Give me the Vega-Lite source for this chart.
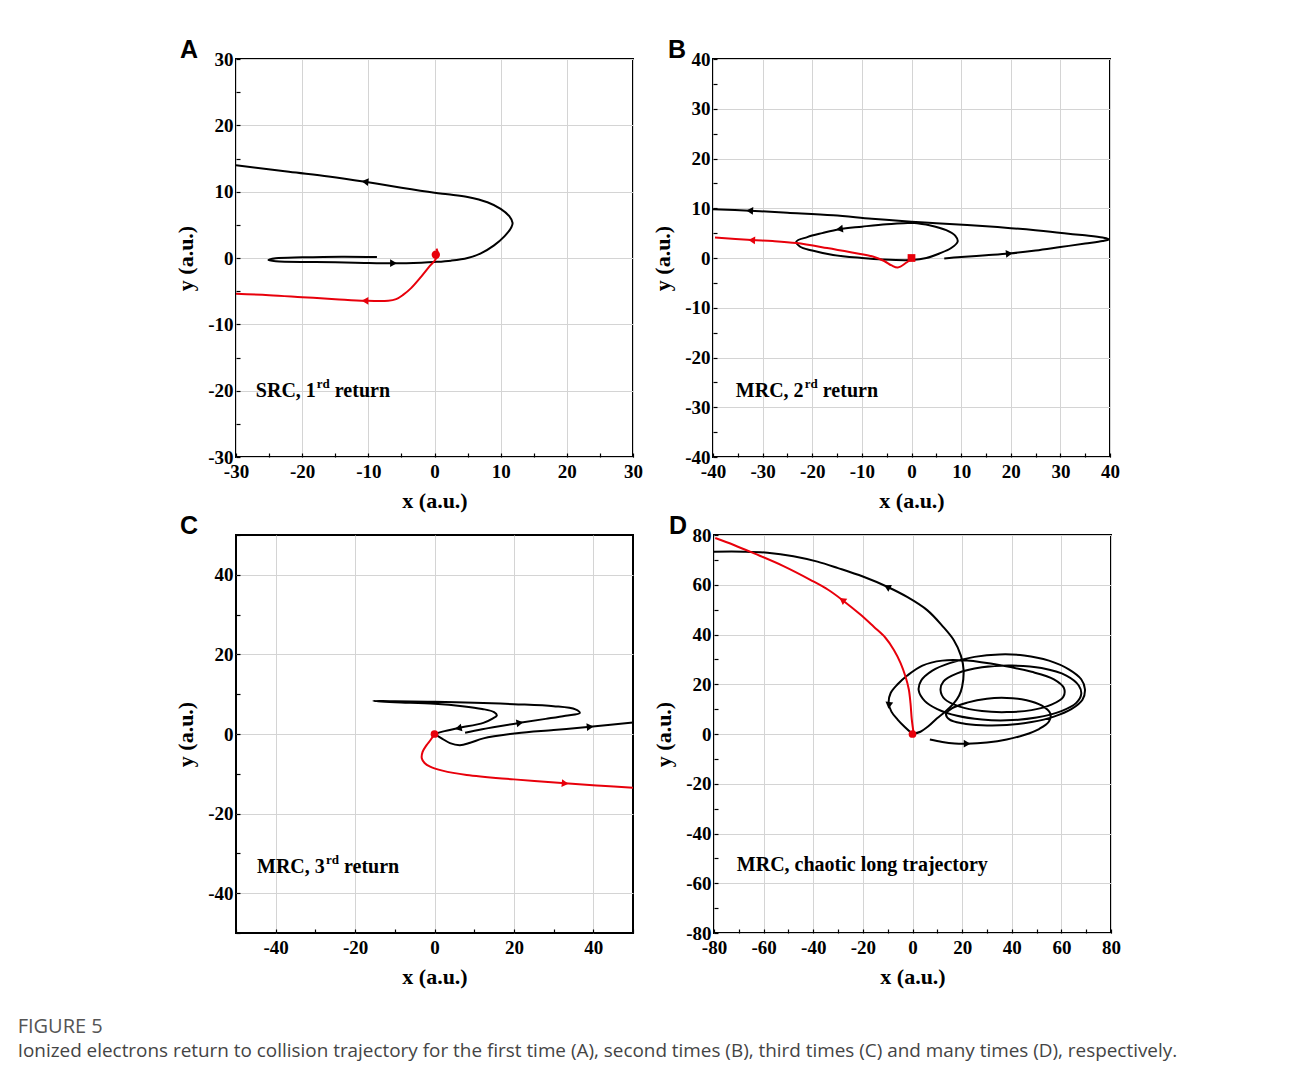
{
"$schema":"https://vega.github.io/schema/vega-lite/v6.json",
"padding":{"left":17,"top":37,"right":20,"bottom":20},
"background":"white",
"spacing":1,
"title":{"text":"FIGURE 5","subtitle":"Ionized electrons return to collision trajectory for the first time (A), second times (B), third times (C) and many times (D), respectively.","orient":"bottom","anchor":"start","frame":"bounds","font":"Open Sans","fontWeight":"normal","fontSize":20,"color":"#555555","subtitleFont":"Open Sans","subtitleFontSize":18.9,"subtitleColor":"#444444","subtitlePadding":5,"offset":29,"dx":-156},
"datasets":{
"lineA":[
{"seg":1,"kind":"trajectory","x":-8.7,"y":0.15},{"seg":1,"kind":"trajectory","x":-14,"y":0.2},{"seg":1,"kind":"trajectory","x":-20,"y":0.1},{"seg":1,"kind":"trajectory","x":-24,"y":-0.05},{"seg":1,"kind":"trajectory","x":-25.1,"y":-0.3},{"seg":1,"kind":"trajectory","x":-24,"y":-0.5},{"seg":1,"kind":"trajectory","x":-18,"y":-0.6},{"seg":1,"kind":"trajectory","x":-12,"y":-0.7},{"seg":1,"kind":"trajectory","x":-6,"y":-0.8},{"seg":1,"kind":"trajectory","x":-2,"y":-0.7},{"seg":1,"kind":"trajectory","x":0,"y":-0.6},{"seg":1,"kind":"trajectory","x":2.5,"y":-0.4},{"seg":1,"kind":"trajectory","x":5,"y":0},{"seg":1,"kind":"trajectory","x":7,"y":0.7},{"seg":1,"kind":"trajectory","x":9,"y":1.9},{"seg":1,"kind":"trajectory","x":10.6,"y":3.3},{"seg":1,"kind":"trajectory","x":11.6,"y":4.6},{"seg":1,"kind":"trajectory","x":11.8,"y":5.3},{"seg":1,"kind":"trajectory","x":11.3,"y":6.3},{"seg":1,"kind":"trajectory","x":10,"y":7.4},{"seg":1,"kind":"trajectory","x":8,"y":8.4},{"seg":1,"kind":"trajectory","x":5,"y":9.2},{"seg":1,"kind":"trajectory","x":2,"y":9.6},{"seg":1,"kind":"trajectory","x":0,"y":9.85},{"seg":1,"kind":"trajectory","x":-5,"y":10.6},{"seg":1,"kind":"trajectory","x":-10.5,"y":11.5},{"seg":1,"kind":"trajectory","x":-16,"y":12.3},{"seg":1,"kind":"trajectory","x":-22,"y":13.0},{"seg":1,"kind":"trajectory","x":-30,"y":14.0},
{"seg":2,"kind":"return","x":0.3,"y":1.4},{"seg":2,"kind":"return","x":0.5,"y":0.6},{"seg":2,"kind":"return","x":0.1,"y":-0.3},{"seg":2,"kind":"return","x":-0.7,"y":-1.2},{"seg":2,"kind":"return","x":-2,"y":-2.8},{"seg":2,"kind":"return","x":-3.5,"y":-4.5},{"seg":2,"kind":"return","x":-4.8,"y":-5.6},{"seg":2,"kind":"return","x":-5.8,"y":-6.2},{"seg":2,"kind":"return","x":-7,"y":-6.45},{"seg":2,"kind":"return","x":-10.5,"y":-6.45},{"seg":2,"kind":"return","x":-15,"y":-6.2},{"seg":2,"kind":"return","x":-20,"y":-5.9},{"seg":2,"kind":"return","x":-25,"y":-5.6},{"seg":2,"kind":"return","x":-30,"y":-5.4}
],
"arrA":[{"kind":"trajectory","x":-10.5,"y":11.5,"dir":187},{"kind":"trajectory","x":-6.2,"y":-0.78,"dir":0},{"kind":"return","x":-10.5,"y":-6.45,"dir":180}],
"lineB":[
{"seg":1,"kind":"trajectory","x":6.6,"y":-0.1},{"seg":1,"kind":"trajectory","x":10,"y":0.2},{"seg":1,"kind":"trajectory","x":15,"y":0.55},{"seg":1,"kind":"trajectory","x":19.7,"y":0.9},{"seg":1,"kind":"trajectory","x":25,"y":1.5},{"seg":1,"kind":"trajectory","x":30,"y":2.2},{"seg":1,"kind":"trajectory","x":35,"y":2.9},{"seg":1,"kind":"trajectory","x":38.5,"y":3.4},{"seg":1,"kind":"trajectory","x":39.8,"y":3.75},{"seg":1,"kind":"trajectory","x":38.5,"y":4.1},{"seg":1,"kind":"trajectory","x":34.4,"y":4.6},{"seg":1,"kind":"trajectory","x":28,"y":5.3},{"seg":1,"kind":"trajectory","x":20,"y":6.0},{"seg":1,"kind":"trajectory","x":12,"y":6.6},{"seg":1,"kind":"trajectory","x":5,"y":7.0},{"seg":1,"kind":"trajectory","x":0,"y":7.3},{"seg":1,"kind":"trajectory","x":-8,"y":7.9},{"seg":1,"kind":"trajectory","x":-15.8,"y":8.6},{"seg":1,"kind":"trajectory","x":-25,"y":9.1},{"seg":1,"kind":"trajectory","x":-32.6,"y":9.5},{"seg":1,"kind":"trajectory","x":-40,"y":9.8},
{"seg":2,"kind":"trajectory","x":0,"y":7.1},{"seg":2,"kind":"trajectory","x":-5,"y":6.8},{"seg":2,"kind":"trajectory","x":-10,"y":6.3},{"seg":2,"kind":"trajectory","x":-14.5,"y":5.8},{"seg":2,"kind":"trajectory","x":-18,"y":5.0},{"seg":2,"kind":"trajectory","x":-21,"y":4.2},{"seg":2,"kind":"trajectory","x":-23.2,"y":3.3},{"seg":2,"kind":"trajectory","x":-22.5,"y":2.3},{"seg":2,"kind":"trajectory","x":-20,"y":1.5},{"seg":2,"kind":"trajectory","x":-15.8,"y":0.6},{"seg":2,"kind":"trajectory","x":-10,"y":0.0},{"seg":2,"kind":"trajectory","x":-5.8,"y":-0.3},{"seg":2,"kind":"trajectory","x":0,"y":-0.4},{"seg":2,"kind":"trajectory","x":3,"y":0},{"seg":2,"kind":"trajectory","x":5.6,"y":0.9},{"seg":2,"kind":"trajectory","x":8,"y":2.0},{"seg":2,"kind":"trajectory","x":9.3,"y":3.3},{"seg":2,"kind":"trajectory","x":8.8,"y":4.5},{"seg":2,"kind":"trajectory","x":7,"y":5.6},{"seg":2,"kind":"trajectory","x":3.6,"y":6.6},{"seg":2,"kind":"trajectory","x":0,"y":7.1},
{"seg":3,"kind":"return","x":0,"y":-0.2},{"seg":3,"kind":"return","x":-1,"y":-0.9},{"seg":3,"kind":"return","x":-2.75,"y":-1.9},{"seg":3,"kind":"return","x":-4,"y":-1.5},{"seg":3,"kind":"return","x":-5.5,"y":-0.6},{"seg":3,"kind":"return","x":-7.8,"y":0.3},{"seg":3,"kind":"return","x":-12,"y":1.1},{"seg":3,"kind":"return","x":-17,"y":2.0},{"seg":3,"kind":"return","x":-23.2,"y":3.0},{"seg":3,"kind":"return","x":-28,"y":3.4},{"seg":3,"kind":"return","x":-32.2,"y":3.6},{"seg":3,"kind":"return","x":-39.6,"y":4.1}
],
"arrB":[{"kind":"trajectory","x":-32.6,"y":9.5,"dir":184},{"kind":"trajectory","x":-14.5,"y":5.8,"dir":172},{"kind":"trajectory","x":19.7,"y":0.9,"dir":355},{"kind":"return","x":-32.2,"y":3.6,"dir":183}],
"lineC":[
{"seg":1,"kind":"trajectory","x":7.7,"y":0.3},{"seg":1,"kind":"trajectory","x":12,"y":1.2},{"seg":1,"kind":"trajectory","x":21.5,"y":2.8},{"seg":1,"kind":"trajectory","x":28,"y":3.8},{"seg":1,"kind":"trajectory","x":33,"y":4.6},{"seg":1,"kind":"trajectory","x":36.6,"y":5.3},{"seg":1,"kind":"trajectory","x":35.5,"y":6.2},{"seg":1,"kind":"trajectory","x":30,"y":7.0},{"seg":1,"kind":"trajectory","x":20,"y":7.5},{"seg":1,"kind":"trajectory","x":12.3,"y":7.8},{"seg":1,"kind":"trajectory","x":0,"y":8.1},{"seg":1,"kind":"trajectory","x":-10,"y":8.2},{"seg":1,"kind":"trajectory","x":-15.4,"y":8.3},{"seg":1,"kind":"trajectory","x":-10,"y":8.0},{"seg":1,"kind":"trajectory","x":0,"y":7.6},{"seg":1,"kind":"trajectory","x":7,"y":7.0},{"seg":1,"kind":"trajectory","x":12,"y":6.3},{"seg":1,"kind":"trajectory","x":15,"y":5.5},{"seg":1,"kind":"trajectory","x":15.7,"y":4.7},{"seg":1,"kind":"trajectory","x":14.5,"y":3.8},{"seg":1,"kind":"trajectory","x":12.3,"y":2.8},{"seg":1,"kind":"trajectory","x":6,"y":1.5},{"seg":1,"kind":"trajectory","x":2,"y":0.6},{"seg":1,"kind":"trajectory","x":0,"y":0},
{"seg":2,"kind":"trajectory","x":0,"y":0},{"seg":2,"kind":"trajectory","x":2,"y":-1.2},{"seg":2,"kind":"trajectory","x":3.9,"y":-2.3},{"seg":2,"kind":"trajectory","x":6.4,"y":-2.8},{"seg":2,"kind":"trajectory","x":9,"y":-2.2},{"seg":2,"kind":"trajectory","x":12.3,"y":-1.1},{"seg":2,"kind":"trajectory","x":20.7,"y":0.2},{"seg":2,"kind":"trajectory","x":30,"y":1.0},{"seg":2,"kind":"trajectory","x":39.2,"y":1.8},{"seg":2,"kind":"trajectory","x":50,"y":2.9},
{"seg":3,"kind":"return","x":0,"y":0},{"seg":3,"kind":"return","x":-1,"y":-1.5},{"seg":3,"kind":"return","x":-2,"y":-2.8},{"seg":3,"kind":"return","x":-3,"y":-4.5},{"seg":3,"kind":"return","x":-3.2,"y":-6.1},{"seg":3,"kind":"return","x":-2.5,"y":-7.3},{"seg":3,"kind":"return","x":-1.1,"y":-8.2},{"seg":3,"kind":"return","x":2,"y":-9.2},{"seg":3,"kind":"return","x":8.1,"y":-10.3},{"seg":3,"kind":"return","x":20,"y":-11.4},{"seg":3,"kind":"return","x":32.9,"y":-12.4},{"seg":3,"kind":"return","x":42,"y":-13.0},{"seg":3,"kind":"return","x":50,"y":-13.5}
],
"arrC":[{"kind":"trajectory","x":6,"y":1.45,"dir":168},{"kind":"trajectory","x":21.5,"y":2.8,"dir":350},{"kind":"trajectory","x":39.2,"y":1.8,"dir":355},{"kind":"return","x":32.9,"y":-12.4,"dir":5}],
"lineD":[
{"seg":1,"kind":"trajectory","x":0,"y":0},{"seg":1,"kind":"trajectory","x":3.2,"y":0.9},{"seg":1,"kind":"trajectory","x":6.5,"y":3.2},{"seg":1,"kind":"trajectory","x":9.9,"y":6.3},{"seg":1,"kind":"trajectory","x":13.5,"y":9.2},{"seg":1,"kind":"trajectory","x":16.6,"y":12.3},{"seg":1,"kind":"trajectory","x":18.8,"y":15.5},{"seg":1,"kind":"trajectory","x":20,"y":19},{"seg":1,"kind":"trajectory","x":20.6,"y":25.7},{"seg":1,"kind":"trajectory","x":19.5,"y":31.5},{"seg":1,"kind":"trajectory","x":16.6,"y":37.8},{"seg":1,"kind":"trajectory","x":12,"y":43.5},{"seg":1,"kind":"trajectory","x":5.9,"y":49.8},{"seg":1,"kind":"trajectory","x":-2,"y":55},{"seg":1,"kind":"trajectory","x":-10.2,"y":59.2},{"seg":1,"kind":"trajectory","x":-20,"y":63.3},{"seg":1,"kind":"trajectory","x":-30,"y":66.7},{"seg":1,"kind":"trajectory","x":-38.3,"y":69.3},{"seg":1,"kind":"trajectory","x":-48,"y":71.5},{"seg":1,"kind":"trajectory","x":-58.4,"y":72.9},{"seg":1,"kind":"trajectory","x":-68,"y":73.3},{"seg":1,"kind":"trajectory","x":-80,"y":73.3},
{"seg":2,"kind":"trajectory","x":7,"y":-2.2},{"seg":2,"kind":"trajectory","x":12,"y":-3.2},{"seg":2,"kind":"trajectory","x":17,"y":-3.8},{"seg":2,"kind":"trajectory","x":22,"y":-3.9},{"seg":2,"kind":"trajectory","x":30,"y":-3.4},{"seg":2,"kind":"trajectory","x":38,"y":-2.2},{"seg":2,"kind":"trajectory","x":45,"y":-0.4},{"seg":2,"kind":"trajectory","x":51,"y":2},{"seg":2,"kind":"trajectory","x":55,"y":5},{"seg":2,"kind":"trajectory","x":55.5,"y":8.3},{"seg":2,"kind":"trajectory","x":52,"y":11.5},{"seg":2,"kind":"trajectory","x":46,"y":13.6},{"seg":2,"kind":"trajectory","x":38,"y":14.5},{"seg":2,"kind":"trajectory","x":30,"y":14.2},{"seg":2,"kind":"trajectory","x":22,"y":12.6},{"seg":2,"kind":"trajectory","x":16,"y":10.4},{"seg":2,"kind":"trajectory","x":13.5,"y":8},{"seg":2,"kind":"trajectory","x":15,"y":5.8},{"seg":2,"kind":"trajectory","x":20,"y":4.3},{"seg":2,"kind":"trajectory","x":28,"y":3.5},{"seg":2,"kind":"trajectory","x":38,"y":3.6},{"seg":2,"kind":"trajectory","x":48,"y":4.8},{"seg":2,"kind":"trajectory","x":57,"y":7},{"seg":2,"kind":"trajectory","x":64,"y":10},{"seg":2,"kind":"trajectory","x":68.5,"y":13.8},{"seg":2,"kind":"trajectory","x":69.5,"y":18},{"seg":2,"kind":"trajectory","x":68,"y":22},{"seg":2,"kind":"trajectory","x":63,"y":26},{"seg":2,"kind":"trajectory","x":55,"y":29.5},{"seg":2,"kind":"trajectory","x":45,"y":31.6},{"seg":2,"kind":"trajectory","x":35,"y":32},{"seg":2,"kind":"trajectory","x":25,"y":31},{"seg":2,"kind":"trajectory","x":15,"y":28.5},{"seg":2,"kind":"trajectory","x":8,"y":25.5},{"seg":2,"kind":"trajectory","x":3.5,"y":21.5},{"seg":2,"kind":"trajectory","x":2.5,"y":17.5},{"seg":2,"kind":"trajectory","x":5,"y":13.2},{"seg":2,"kind":"trajectory","x":10,"y":10},{"seg":2,"kind":"trajectory","x":18,"y":7.3},{"seg":2,"kind":"trajectory","x":28,"y":5.8},{"seg":2,"kind":"trajectory","x":38,"y":5.5},{"seg":2,"kind":"trajectory","x":50,"y":6.6},{"seg":2,"kind":"trajectory","x":60,"y":9.2},{"seg":2,"kind":"trajectory","x":66,"y":12.5},{"seg":2,"kind":"trajectory","x":68,"y":16},{"seg":2,"kind":"trajectory","x":67,"y":19.5},{"seg":2,"kind":"trajectory","x":62,"y":23.5},{"seg":2,"kind":"trajectory","x":52,"y":26.5},{"seg":2,"kind":"trajectory","x":40,"y":27.5},{"seg":2,"kind":"trajectory","x":28,"y":26.8},{"seg":2,"kind":"trajectory","x":18,"y":24.4},{"seg":2,"kind":"trajectory","x":12.5,"y":21.2},{"seg":2,"kind":"trajectory","x":11.3,"y":17.7},{"seg":2,"kind":"trajectory","x":13,"y":14},{"seg":2,"kind":"trajectory","x":19,"y":11},{"seg":2,"kind":"trajectory","x":28,"y":9.2},{"seg":2,"kind":"trajectory","x":38,"y":8.8},{"seg":2,"kind":"trajectory","x":48,"y":9.6},{"seg":2,"kind":"trajectory","x":56,"y":11.8},{"seg":2,"kind":"trajectory","x":60.8,"y":15},{"seg":2,"kind":"trajectory","x":61,"y":18.5},{"seg":2,"kind":"trajectory","x":57,"y":22},{"seg":2,"kind":"trajectory","x":48,"y":25},{"seg":2,"kind":"trajectory","x":36,"y":27.5},{"seg":2,"kind":"trajectory","x":22,"y":29.5},{"seg":2,"kind":"trajectory","x":12,"y":29.5},{"seg":2,"kind":"trajectory","x":4,"y":27.5},{"seg":2,"kind":"trajectory","x":-2.1,"y":23.5},{"seg":2,"kind":"trajectory","x":-6,"y":20},{"seg":2,"kind":"trajectory","x":-8.8,"y":16.5},{"seg":2,"kind":"trajectory","x":-9.6,"y":12.5},{"seg":2,"kind":"trajectory","x":-8.5,"y":9},{"seg":2,"kind":"trajectory","x":-6,"y":5.8},{"seg":2,"kind":"trajectory","x":-3,"y":2.7},{"seg":2,"kind":"trajectory","x":0,"y":0},
{"seg":3,"kind":"return","x":0.5,"y":0},{"seg":3,"kind":"return","x":-0.3,"y":6},{"seg":3,"kind":"return","x":-0.8,"y":12.3},{"seg":3,"kind":"return","x":-1.5,"y":18},{"seg":3,"kind":"return","x":-2.8,"y":23},{"seg":3,"kind":"return","x":-4.8,"y":28.5},{"seg":3,"kind":"return","x":-7.5,"y":33.8},{"seg":3,"kind":"return","x":-11,"y":38.8},{"seg":3,"kind":"return","x":-15.6,"y":43.1},{"seg":3,"kind":"return","x":-21,"y":48},{"seg":3,"kind":"return","x":-28.3,"y":53.9},{"seg":3,"kind":"return","x":-34,"y":58},{"seg":3,"kind":"return","x":-41,"y":61.9},{"seg":3,"kind":"return","x":-52,"y":67.5},{"seg":3,"kind":"return","x":-63.8,"y":72.6},{"seg":3,"kind":"return","x":-72,"y":76},{"seg":3,"kind":"return","x":-79.5,"y":78.8}
],
"arrD":[{"kind":"trajectory","x":22,"y":-3.9,"dir":0},{"kind":"trajectory","x":-10.2,"y":59.2,"dir":208},{"kind":"trajectory","x":-9.5,"y":11.5,"dir":97},{"kind":"return","x":-28.3,"y":53.9,"dir":215}]
},
"vconcat":[
{"hconcat":[
{"width":397,"height":398,"title":{"text":"A","dx":-56},
 "encoding":{
  "x":{"field":"x","type":"quantitative","scale":{"domain":[-30,30],"nice":false,"zero":false},"axis":{"title":"x (a.u.)","values":[-30,-25,-20,-15,-10,-5,0,5,10,15,20,25,30],"labelExpr":"datum.value % 10 === 0 ? '' + datum.value : ''","gridOpacity":{"condition":{"test":"datum.value % 10 !== 0","value":0},"value":1}}},
  "y":{"field":"y","type":"quantitative","scale":{"domain":[-30,30],"nice":false,"zero":false},"axis":{"title":"y (a.u.)","values":[-30,-25,-20,-15,-10,-5,0,5,10,15,20,25,30],"labelExpr":"datum.value % 10 === 0 ? '' + datum.value : ''","gridOpacity":{"condition":{"test":"datum.value % 10 !== 0","value":0},"value":1}}}
 },
 "layer":[
  {"data":{"name":"lineA"},"mark":{"type":"line","strokeWidth":2,"interpolate":"catmull-rom","clip":true},"encoding":{"order":{"value":null},"detail":{"field":"seg","type":"nominal"},"color":{"field":"kind","type":"nominal","scale":{"domain":["trajectory","return"],"range":["#000000","#e8000b"]},"legend":null}}},
  {"data":{"name":"arrA"},"mark":{"type":"point","shape":"triangle-right","filled":true,"size":60,"opacity":1},"encoding":{"angle":{"field":"dir","type":"quantitative","scale":null},"color":{"field":"kind","type":"nominal","scale":{"domain":["trajectory","return"],"range":["#000000","#e8000b"]},"legend":null}}},
  {"data":{"values":[{"x":0.2,"y":0.5}]},"mark":{"type":"point","shape":"circle","filled":true,"size":70,"color":"#e8000b","opacity":1}},
  {"data":{"values":[{"x":-27,"y":-20,"main":"SRC, 1","sup":"rd","rest":"return"}]},"mark":{"type":"text","align":"left","baseline":"middle","font":"Liberation Serif","fontWeight":"bold","fontSize":20,"color":"black"},"encoding":{"text":{"field":"main"}}},
  {"data":{"values":[{"x":-27,"y":-20,"main":"SRC, 1","sup":"rd","rest":"return"}]},"mark":{"type":"text","align":"left","baseline":"middle","font":"Liberation Serif","fontWeight":"bold","fontSize":13,"color":"black","dx":61,"dy":-7},"encoding":{"text":{"field":"sup"}}},
  {"data":{"values":[{"x":-27,"y":-20,"main":"SRC, 1","sup":"rd","rest":"return"}]},"mark":{"type":"text","align":"left","baseline":"middle","font":"Liberation Serif","fontWeight":"bold","fontSize":20,"color":"black","dx":79},"encoding":{"text":{"field":"rest"}}}
 ]},
{"width":397,"height":398,"title":{"text":"B","dx":-45},
 "encoding":{
  "x":{"field":"x","type":"quantitative","scale":{"domain":[-40,40],"nice":false,"zero":false},"axis":{"title":"x (a.u.)","values":[-40,-35,-30,-25,-20,-15,-10,-5,0,5,10,15,20,25,30,35,40],"labelExpr":"datum.value % 10 === 0 ? '' + datum.value : ''","gridOpacity":{"condition":{"test":"datum.value % 10 !== 0","value":0},"value":1}}},
  "y":{"field":"y","type":"quantitative","scale":{"domain":[-40,40],"nice":false,"zero":false},"axis":{"title":"y (a.u.)","values":[-40,-35,-30,-25,-20,-15,-10,-5,0,5,10,15,20,25,30,35,40],"labelExpr":"datum.value % 10 === 0 ? '' + datum.value : ''","gridOpacity":{"condition":{"test":"datum.value % 10 !== 0","value":0},"value":1}}}
 },
 "layer":[
  {"data":{"name":"lineB"},"mark":{"type":"line","strokeWidth":2,"interpolate":"catmull-rom","clip":true},"encoding":{"order":{"value":null},"detail":{"field":"seg","type":"nominal"},"color":{"field":"kind","type":"nominal","scale":{"domain":["trajectory","return"],"range":["#000000","#e8000b"]},"legend":null}}},
  {"data":{"name":"arrB"},"mark":{"type":"point","shape":"triangle-right","filled":true,"size":60,"opacity":1},"encoding":{"angle":{"field":"dir","type":"quantitative","scale":null},"color":{"field":"kind","type":"nominal","scale":{"domain":["trajectory","return"],"range":["#000000","#e8000b"]},"legend":null}}},
  {"data":{"values":[{"x":0,"y":0}]},"mark":{"type":"point","shape":"square","filled":true,"size":60,"color":"#e8000b","opacity":1}},
  {"data":{"values":[{"x":-35.4,"y":-26.7,"main":"MRC, 2","sup":"rd","rest":"return"}]},"mark":{"type":"text","align":"left","baseline":"middle","font":"Liberation Serif","fontWeight":"bold","fontSize":20,"color":"black"},"encoding":{"text":{"field":"main"}}},
  {"data":{"values":[{"x":-35.4,"y":-26.7,"main":"MRC, 2","sup":"rd","rest":"return"}]},"mark":{"type":"text","align":"left","baseline":"middle","font":"Liberation Serif","fontWeight":"bold","fontSize":13,"color":"black","dx":69,"dy":-7},"encoding":{"text":{"field":"sup"}}},
  {"data":{"values":[{"x":-35.4,"y":-26.7,"main":"MRC, 2","sup":"rd","rest":"return"}]},"mark":{"type":"text","align":"left","baseline":"middle","font":"Liberation Serif","fontWeight":"bold","fontSize":20,"color":"black","dx":87},"encoding":{"text":{"field":"rest"}}}
 ]}
],"spacing":6},
{"hconcat":[
{"width":397,"height":398,"title":{"text":"C","dx":-56},
 "encoding":{
  "x":{"field":"x","type":"quantitative","scale":{"domain":[-50,50],"nice":false,"zero":false},"axis":{"title":"x (a.u.)","values":[-50,-40,-30,-20,-10,0,10,20,30,40,50],"labelExpr":"datum.value % 20 === 0 ? '' + datum.value : ''","gridOpacity":{"condition":{"test":"datum.value % 20 !== 0","value":0},"value":1}}},
  "y":{"field":"y","type":"quantitative","scale":{"domain":[-50,50],"nice":false,"zero":false},"axis":{"title":"y (a.u.)","values":[-50,-40,-30,-20,-10,0,10,20,30,40,50],"labelExpr":"datum.value % 20 === 0 ? '' + datum.value : ''","gridOpacity":{"condition":{"test":"datum.value % 20 !== 0","value":0},"value":1}}}
 },
 "layer":[
  {"data":{"name":"lineC"},"mark":{"type":"line","strokeWidth":2,"interpolate":"catmull-rom","clip":true},"encoding":{"order":{"value":null},"detail":{"field":"seg","type":"nominal"},"color":{"field":"kind","type":"nominal","scale":{"domain":["trajectory","return"],"range":["#000000","#e8000b"]},"legend":null}}},
  {"data":{"name":"arrC"},"mark":{"type":"point","shape":"triangle-right","filled":true,"size":60,"opacity":1},"encoding":{"angle":{"field":"dir","type":"quantitative","scale":null},"color":{"field":"kind","type":"nominal","scale":{"domain":["trajectory","return"],"range":["#000000","#e8000b"]},"legend":null}}},
  {"data":{"values":[{"x":0,"y":0}]},"mark":{"type":"point","shape":"circle","filled":true,"size":60,"color":"#e8000b","opacity":1}},
  {"data":{"values":[{"x":-44.7,"y":-33.4,"main":"MRC, 3","sup":"rd","rest":"return"}]},"mark":{"type":"text","align":"left","baseline":"middle","font":"Liberation Serif","fontWeight":"bold","fontSize":20,"color":"black"},"encoding":{"text":{"field":"main"}}},
  {"data":{"values":[{"x":-44.7,"y":-33.4,"main":"MRC, 3","sup":"rd","rest":"return"}]},"mark":{"type":"text","align":"left","baseline":"middle","font":"Liberation Serif","fontWeight":"bold","fontSize":13,"color":"black","dx":69,"dy":-7},"encoding":{"text":{"field":"sup"}}},
  {"data":{"values":[{"x":-44.7,"y":-33.4,"main":"MRC, 3","sup":"rd","rest":"return"}]},"mark":{"type":"text","align":"left","baseline":"middle","font":"Liberation Serif","fontWeight":"bold","fontSize":20,"color":"black","dx":87},"encoding":{"text":{"field":"rest"}}}
 ]},
{"width":397,"height":398,"title":{"text":"D","dx":-45},
 "encoding":{
  "x":{"field":"x","type":"quantitative","scale":{"domain":[-80,80],"nice":false,"zero":false},"axis":{"title":"x (a.u.)","values":[-80,-70,-60,-50,-40,-30,-20,-10,0,10,20,30,40,50,60,70,80],"labelExpr":"datum.value % 20 === 0 ? '' + datum.value : ''","gridOpacity":{"condition":{"test":"datum.value % 20 !== 0","value":0},"value":1}}},
  "y":{"field":"y","type":"quantitative","scale":{"domain":[-80,80],"nice":false,"zero":false},"axis":{"title":"y (a.u.)","values":[-80,-70,-60,-50,-40,-30,-20,-10,0,10,20,30,40,50,60,70,80],"labelExpr":"datum.value % 20 === 0 ? '' + datum.value : ''","gridOpacity":{"condition":{"test":"datum.value % 20 !== 0","value":0},"value":1}}}
 },
 "layer":[
  {"data":{"name":"lineD"},"mark":{"type":"line","strokeWidth":2,"interpolate":"catmull-rom","clip":true},"encoding":{"order":{"value":null},"detail":{"field":"seg","type":"nominal"},"color":{"field":"kind","type":"nominal","scale":{"domain":["trajectory","return"],"range":["#000000","#e8000b"]},"legend":null}}},
  {"data":{"name":"arrD"},"mark":{"type":"point","shape":"triangle-right","filled":true,"size":60,"opacity":1},"encoding":{"angle":{"field":"dir","type":"quantitative","scale":null},"color":{"field":"kind","type":"nominal","scale":{"domain":["trajectory","return"],"range":["#000000","#e8000b"]},"legend":null}}},
  {"data":{"values":[{"x":0,"y":0}]},"mark":{"type":"point","shape":"circle","filled":true,"size":60,"color":"#e8000b","opacity":1}},
  {"data":{"values":[{"x":-70.8,"y":-52.7,"main":"MRC, chaotic long trajectory"}]},"mark":{"type":"text","align":"left","baseline":"middle","font":"Liberation Serif","fontWeight":"bold","fontSize":20,"color":"black"},"encoding":{"text":{"field":"main"}}}
 ]}
],"spacing":16}
],
"config":{
 "view":{"stroke":"black","strokeWidth":2},
 "axis":{"domain":false,"labelFont":"Liberation Serif","labelFontWeight":"bold","labelFontSize":19,"labelColor":"black","titleFont":"Liberation Serif","titleFontWeight":"bold","titleFontSize":22,"titleColor":"black","gridColor":"#d4d4d4","gridWidth":1,"tickColor":"black","tickWidth":1.2,"tickSize":-4,"labelFlush":false,"labelOverlap":false,"labelPadding":7},
 "axisX":{"titlePadding":9,"labelPadding":9},
 "axisY":{"titlePadding":10},
 "title":{"font":"Liberation Sans","fontWeight":"bold","fontSize":25,"color":"black","anchor":"start","frame":"group","offset":-13}
}
}
